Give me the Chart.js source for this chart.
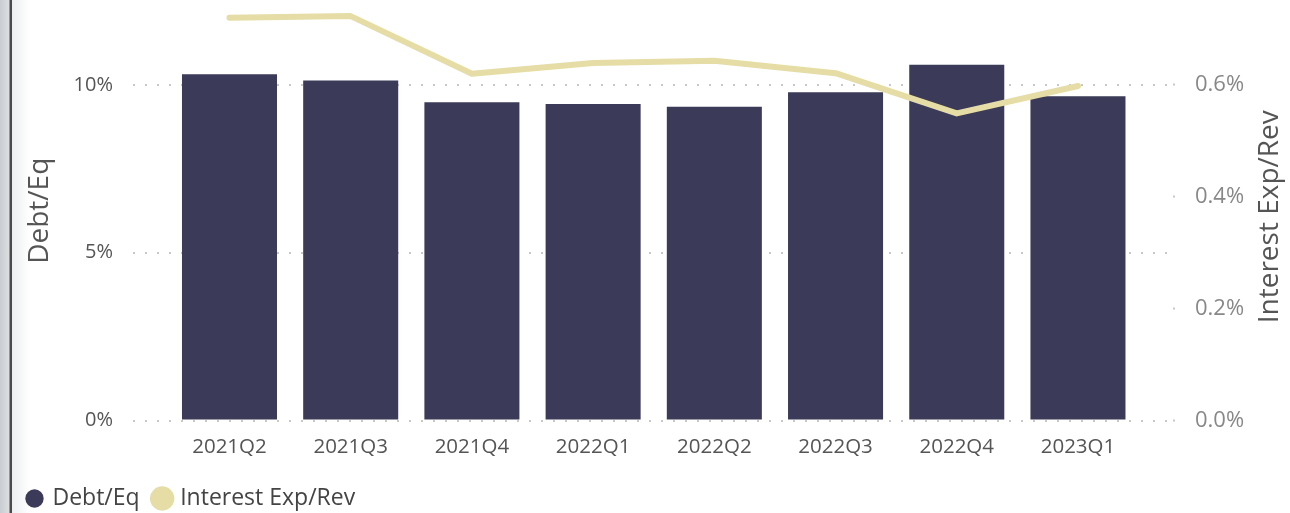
<!DOCTYPE html>
<html>
<head>
<meta charset="utf-8">
<script src="https://cdn.jsdelivr.net/npm/chart.js@4"></script>
<style>
  html, body { margin: 0; padding: 0; background: #fff; overflow: hidden; }
  #wrap { position: relative; width: 1290px; height: 513px; overflow: hidden; }
  #edge { position: absolute; left: 0; top: 0; width: 30px; height: 513px;
    background: linear-gradient(to right, #c9ccd1 0px, #dcdee2 9px, #4a4a4a 10px, #4a4a4a 12px, #eceef1 12px, #fff 30px); }
  canvas { position: absolute; left: 0; top: 0; }
</style>
</head>
<body>
<div id="wrap">
  <div id="edge"></div>
  <canvas id="chart" width="1290" height="520"></canvas>
</div>
<script>
const categories = ["2021Q2", "2021Q3", "2021Q4", "2022Q1", "2022Q2", "2022Q3", "2022Q4", "2023Q1"];
const debtEq = [10.32, 10.13, 9.48, 9.43, 9.35, 9.78, 10.60, 9.66];
const interestExpRev = [0.720, 0.723, 0.620, 0.639, 0.643, 0.621, 0.549, 0.598];
const leftTicks = [0, 5, 10];
const rightTicks = [0, 0.2, 0.4, 0.6];

const FONT = "'Open Sans', 'Noto Sans', sans-serif";

// right axis title reads bottom-to-top, chart.js would flip it, so draw it here
const rightTitle = {
  id: 'rightTitle',
  afterDraw(chart) {
    const ctx = chart.ctx;
    const area = chart.chartArea;
    ctx.save();
    ctx.translate(1270, (area.top + area.bottom) / 2 + 6);
    ctx.rotate(-Math.PI / 2);
    ctx.font = "28px " + FONT;
    ctx.fillStyle = '#555';
    ctx.textAlign = 'center';
    ctx.textBaseline = 'middle';
    ctx.fillText('Interest Exp/Rev', 0, 0);
    ctx.restore();
  }
};

const noPad = s => { s.paddingTop = 0; s.paddingBottom = 0; s.paddingLeft = 0; s.paddingRight = 0; };

new Chart(document.getElementById('chart'), {
  data: {
    datasets: [{
      type: 'line',
      label: 'Interest Exp/Rev',
      data: interestExpRev.map((v, i) => ({ x: i, y: v })),
      yAxisID: 'y1',
      borderColor: '#e5dda5',
      backgroundColor: '#e5dda5',
      borderWidth: 6,
      borderCapStyle: 'round',
      borderJoinStyle: 'round',
      pointRadius: 0,
      tension: 0
    }, {
      type: 'bar',
      label: 'Debt/Eq',
      data: debtEq.map((v, i) => ({ x: i, y: v })),
      yAxisID: 'y',
      backgroundColor: '#3b3a59',
      categoryPercentage: 1,
      barPercentage: 0.784
    }]
  },
  options: {
    responsive: false,
    animation: false,
    layout: { autoPadding: false, padding: { left: 12, right: 0, top: 1, bottom: 0 } },
    plugins: {
      tooltip: { enabled: false },
      legend: {
        position: 'bottom',
        align: 'start',
        labels: {
          usePointStyle: true,
          pointStyle: 'circle',
          boxWidth: 13,
          boxHeight: 13,
          padding: 16,
          color: '#444',
          font: { family: FONT, size: 23 },
          sort: (a, b) => b.datasetIndex - a.datasetIndex
        }
      }
    },
    scales: {
      x: {
        type: 'linear',
        offset: false,
        min: -0.796,
        max: 7.784,
        afterBuildTicks: s => { s.ticks = categories.map((c, i) => ({ value: i })); },
        afterFit: s => { s.height = 50.5; noPad(s); },
        grid: { display: false, offset: false },
        border: { display: false },
        ticks: {
          callback: v => categories[v],
          autoSkip: false,
          maxRotation: 0,
          padding: 6,
          color: '#555',
          font: { family: FONT, size: 20.5 }
        }
      },
      y: {
        position: 'left',
        min: 0,
        max: 12.5,
        afterBuildTicks: s => { s.ticks = leftTicks.map(v => ({ value: v })); },
        afterFit: s => { s.width = 121; noPad(s); },
        border: { display: false, dash: [2, 10] },
        grid: { color: '#c8c8c8', lineWidth: 2, drawTicks: false },
        title: { display: true, text: 'Debt/Eq', color: '#555', font: { family: FONT, size: 28 }, padding: { top: 11, bottom: 0 } },
        ticks: {
          callback: v => v + '%',
          padding: 20,
          color: '#555',
          font: { family: FONT, size: 20 }
        }
      },
      y1: {
        position: 'right',
        min: 0,
        max: 0.75,
        afterBuildTicks: s => { s.ticks = rightTicks.map(v => ({ value: v })); },
        afterFit: s => { s.width = 117; noPad(s); },
        border: { display: false },
        grid: { drawOnChartArea: false, drawTicks: true, tickLength: 2, tickColor: '#c8c8c8', tickWidth: 2 },
        ticks: {
          callback: v => v.toFixed(1) + '%',
          padding: 20,
          color: '#888',
          font: { family: FONT, size: 22 }
        }
      }
    }
  },
  plugins: [rightTitle]
});
</script>
</body>
</html>
